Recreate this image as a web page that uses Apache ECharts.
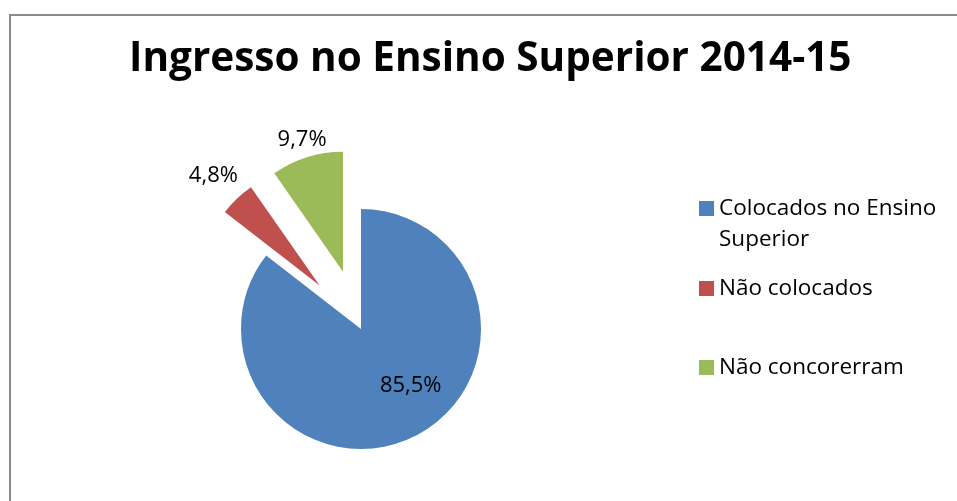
<!DOCTYPE html>
<html><head><meta charset="utf-8">
<script src="https://cdn.jsdelivr.net/npm/echarts@6/dist/echarts.min.js"></script>
<style>
html,body{margin:0;padding:0;background:#fff;overflow:hidden;}
#chart{position:absolute;left:0;top:0;width:957px;height:501px;}
</style>
</head><body>
<div id="chart"></div>
<script>
const titleText = 'Ingresso no Ensino Superior 2014-15';
const categories = ['Colocados no Ensino Superior', 'Não colocados', 'Não concorerram'];
const values = [85.5, 4.8, 9.7];
const labels = ['85,5%', '4,8%', '9,7%'];
const colors = ['#4F81BD', '#C0504D', '#9BBB59'];

const FONT = '"Open Sans", Lato, sans-serif';
const chart = echarts.init(document.getElementById('chart'), null, {renderer: 'canvas'});

const legendTops = [162, 273, 352];
const legends = categories.map((c, i) => ({
  orient: 'vertical',
  left: 699,
  top: legendTops[i],
  padding: 0,
  data: [c],
  itemWidth: 15,
  itemHeight: 15,
  itemGap: 0,
  icon: 'rect',
  selectedMode: false,
  formatter: n => n === categories[0] ? ' \nColocados no Ensino\nSuperior' : n,
  textStyle: {fontFamily: FONT, fontSize: 22.5, color: '#000', lineHeight: 31}
}));

const labelCfg = [
  {position: 'inside', padding: [0, 0, 0, 44]},
  {position: 'outside'},
  {position: 'outside'}
];
const lineCfg = [
  {},
  {length: 32, length2: -28},
  {length: 18, length2: -30}
];

chart.setOption({
  animation: false,
  graphic: [{
    type: 'polyline',
    silent: true,
    shape: {points: [[10, 520], [10, 15], [970, 15]]},
    style: {stroke: '#8a8a8a', lineWidth: 2, fill: null}
  }],
  title: {
    text: titleText,
    left: 129,
    top: 39,
    padding: 0,
    textStyle: {fontFamily: FONT, fontWeight: 'bold', fontSize: 40.5, color: '#000'}
  },
  legend: legends,
  series: [{
    type: 'pie',
    center: [361, 329],
    radius: 120,
    startAngle: 90,
    clockwise: true,
    selectedMode: 'multiple',
    selectedOffset: 60,
    avoidLabelOverlap: false,
    emphasis: {disabled: true},
    label: {
      fontFamily: FONT, fontSize: 22, color: '#000',
      formatter: p => labels[p.dataIndex]
    },
    labelLine: {show: false},
    data: categories.map((c, i) => ({
      name: c,
      value: values[i],
      selected: i > 0,
      itemStyle: {color: colors[i]},
      label: labelCfg[i],
      labelLine: Object.assign({show: false}, lineCfg[i])
    }))
  }]
});
</script>
</body></html>
